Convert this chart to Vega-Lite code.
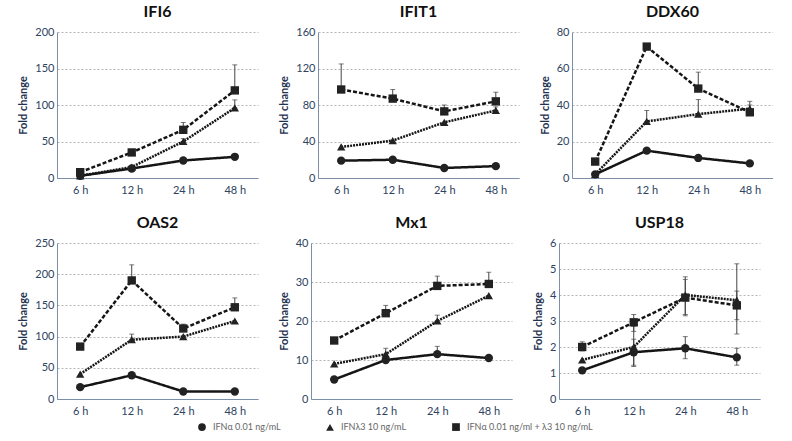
{
  "$schema": "https://vega.github.io/schema/vega-lite/v6.json",
  "padding": {"left": 17, "top": 4, "right": 0, "bottom": 0},
  "background": "white",
  "datasets": {
    "d": [
      {"g":"IFI6","t":"6 h","s":"IFNα 0.01 ng/mL","v":3,"lo":3,"hi":3},
      {"g":"IFI6","t":"12 h","s":"IFNα 0.01 ng/mL","v":13,"lo":13,"hi":13},
      {"g":"IFI6","t":"24 h","s":"IFNα 0.01 ng/mL","v":24,"lo":24,"hi":24},
      {"g":"IFI6","t":"48 h","s":"IFNα 0.01 ng/mL","v":29,"lo":29,"hi":29},
      {"g":"IFI6","t":"6 h","s":"IFNλ3 10 ng/mL","v":3,"lo":3,"hi":3},
      {"g":"IFI6","t":"12 h","s":"IFNλ3 10 ng/mL","v":15,"lo":15,"hi":15},
      {"g":"IFI6","t":"24 h","s":"IFNλ3 10 ng/mL","v":50,"lo":50,"hi":54},
      {"g":"IFI6","t":"48 h","s":"IFNλ3 10 ng/mL","v":96,"lo":96,"hi":107},
      {"g":"IFI6","t":"6 h","s":"IFNα 0.01 ng/ml + λ3 10 ng/mL","v":8,"lo":8,"hi":8},
      {"g":"IFI6","t":"12 h","s":"IFNα 0.01 ng/ml + λ3 10 ng/mL","v":35,"lo":35,"hi":35},
      {"g":"IFI6","t":"24 h","s":"IFNα 0.01 ng/ml + λ3 10 ng/mL","v":66,"lo":66,"hi":76},
      {"g":"IFI6","t":"48 h","s":"IFNα 0.01 ng/ml + λ3 10 ng/mL","v":120,"lo":120,"hi":155},

      {"g":"IFIT1","t":"6 h","s":"IFNα 0.01 ng/mL","v":19,"lo":19,"hi":19},
      {"g":"IFIT1","t":"12 h","s":"IFNα 0.01 ng/mL","v":20,"lo":20,"hi":20},
      {"g":"IFIT1","t":"24 h","s":"IFNα 0.01 ng/mL","v":11,"lo":11,"hi":11},
      {"g":"IFIT1","t":"48 h","s":"IFNα 0.01 ng/mL","v":13,"lo":13,"hi":13},
      {"g":"IFIT1","t":"6 h","s":"IFNλ3 10 ng/mL","v":34,"lo":34,"hi":34},
      {"g":"IFIT1","t":"12 h","s":"IFNλ3 10 ng/mL","v":41,"lo":41,"hi":41},
      {"g":"IFIT1","t":"24 h","s":"IFNλ3 10 ng/mL","v":61,"lo":61,"hi":61},
      {"g":"IFIT1","t":"48 h","s":"IFNλ3 10 ng/mL","v":74,"lo":74,"hi":78},
      {"g":"IFIT1","t":"6 h","s":"IFNα 0.01 ng/ml + λ3 10 ng/mL","v":97,"lo":97,"hi":125},
      {"g":"IFIT1","t":"12 h","s":"IFNα 0.01 ng/ml + λ3 10 ng/mL","v":87,"lo":87,"hi":97},
      {"g":"IFIT1","t":"24 h","s":"IFNα 0.01 ng/ml + λ3 10 ng/mL","v":73,"lo":73,"hi":80},
      {"g":"IFIT1","t":"48 h","s":"IFNα 0.01 ng/ml + λ3 10 ng/mL","v":84,"lo":84,"hi":94},

      {"g":"DDX60","t":"6 h","s":"IFNα 0.01 ng/mL","v":2,"lo":2,"hi":2},
      {"g":"DDX60","t":"12 h","s":"IFNα 0.01 ng/mL","v":15,"lo":15,"hi":15},
      {"g":"DDX60","t":"24 h","s":"IFNα 0.01 ng/mL","v":11,"lo":11,"hi":11},
      {"g":"DDX60","t":"48 h","s":"IFNα 0.01 ng/mL","v":8,"lo":8,"hi":8},
      {"g":"DDX60","t":"6 h","s":"IFNλ3 10 ng/mL","v":2,"lo":2,"hi":2},
      {"g":"DDX60","t":"12 h","s":"IFNλ3 10 ng/mL","v":31,"lo":31,"hi":37},
      {"g":"DDX60","t":"24 h","s":"IFNλ3 10 ng/mL","v":35,"lo":35,"hi":43},
      {"g":"DDX60","t":"48 h","s":"IFNλ3 10 ng/mL","v":38,"lo":38,"hi":42},
      {"g":"DDX60","t":"6 h","s":"IFNα 0.01 ng/ml + λ3 10 ng/mL","v":9,"lo":9,"hi":9},
      {"g":"DDX60","t":"12 h","s":"IFNα 0.01 ng/ml + λ3 10 ng/mL","v":72,"lo":72,"hi":72},
      {"g":"DDX60","t":"24 h","s":"IFNα 0.01 ng/ml + λ3 10 ng/mL","v":49,"lo":49,"hi":58},
      {"g":"DDX60","t":"48 h","s":"IFNα 0.01 ng/ml + λ3 10 ng/mL","v":36,"lo":36,"hi":40},

      {"g":"OAS2","t":"6 h","s":"IFNα 0.01 ng/mL","v":19,"lo":19,"hi":19},
      {"g":"OAS2","t":"12 h","s":"IFNα 0.01 ng/mL","v":38,"lo":38,"hi":38},
      {"g":"OAS2","t":"24 h","s":"IFNα 0.01 ng/mL","v":12,"lo":12,"hi":12},
      {"g":"OAS2","t":"48 h","s":"IFNα 0.01 ng/mL","v":12,"lo":12,"hi":12},
      {"g":"OAS2","t":"6 h","s":"IFNλ3 10 ng/mL","v":40,"lo":40,"hi":40},
      {"g":"OAS2","t":"12 h","s":"IFNλ3 10 ng/mL","v":95,"lo":95,"hi":104},
      {"g":"OAS2","t":"24 h","s":"IFNλ3 10 ng/mL","v":100,"lo":100,"hi":100},
      {"g":"OAS2","t":"48 h","s":"IFNλ3 10 ng/mL","v":125,"lo":125,"hi":125},
      {"g":"OAS2","t":"6 h","s":"IFNα 0.01 ng/ml + λ3 10 ng/mL","v":84,"lo":84,"hi":84},
      {"g":"OAS2","t":"12 h","s":"IFNα 0.01 ng/ml + λ3 10 ng/mL","v":190,"lo":190,"hi":215},
      {"g":"OAS2","t":"24 h","s":"IFNα 0.01 ng/ml + λ3 10 ng/mL","v":113,"lo":113,"hi":120},
      {"g":"OAS2","t":"48 h","s":"IFNα 0.01 ng/ml + λ3 10 ng/mL","v":147,"lo":147,"hi":162},

      {"g":"Mx1","t":"6 h","s":"IFNα 0.01 ng/mL","v":5,"lo":5,"hi":5},
      {"g":"Mx1","t":"12 h","s":"IFNα 0.01 ng/mL","v":10,"lo":10,"hi":10},
      {"g":"Mx1","t":"24 h","s":"IFNα 0.01 ng/mL","v":11.5,"lo":11.5,"hi":13.5},
      {"g":"Mx1","t":"48 h","s":"IFNα 0.01 ng/mL","v":10.5,"lo":10.5,"hi":10.5},
      {"g":"Mx1","t":"6 h","s":"IFNλ3 10 ng/mL","v":9,"lo":9,"hi":9},
      {"g":"Mx1","t":"12 h","s":"IFNλ3 10 ng/mL","v":11.5,"lo":11.5,"hi":13},
      {"g":"Mx1","t":"24 h","s":"IFNλ3 10 ng/mL","v":20,"lo":20,"hi":21.5},
      {"g":"Mx1","t":"48 h","s":"IFNλ3 10 ng/mL","v":26.5,"lo":26.5,"hi":26.5},
      {"g":"Mx1","t":"6 h","s":"IFNα 0.01 ng/ml + λ3 10 ng/mL","v":15,"lo":15,"hi":15},
      {"g":"Mx1","t":"12 h","s":"IFNα 0.01 ng/ml + λ3 10 ng/mL","v":22,"lo":22,"hi":24},
      {"g":"Mx1","t":"24 h","s":"IFNα 0.01 ng/ml + λ3 10 ng/mL","v":29,"lo":29,"hi":31.5},
      {"g":"Mx1","t":"48 h","s":"IFNα 0.01 ng/ml + λ3 10 ng/mL","v":29.5,"lo":29.5,"hi":32.5},

      {"g":"USP18","t":"6 h","s":"IFNα 0.01 ng/mL","v":1.1,"lo":1.1,"hi":1.1},
      {"g":"USP18","t":"12 h","s":"IFNα 0.01 ng/mL","v":1.8,"lo":1.3,"hi":2.3},
      {"g":"USP18","t":"24 h","s":"IFNα 0.01 ng/mL","v":1.95,"lo":1.55,"hi":2.4},
      {"g":"USP18","t":"48 h","s":"IFNα 0.01 ng/mL","v":1.6,"lo":1.3,"hi":1.95},
      {"g":"USP18","t":"6 h","s":"IFNλ3 10 ng/mL","v":1.5,"lo":1.5,"hi":1.5},
      {"g":"USP18","t":"12 h","s":"IFNλ3 10 ng/mL","v":2.0,"lo":1.25,"hi":2.8},
      {"g":"USP18","t":"24 h","s":"IFNλ3 10 ng/mL","v":4.0,"lo":3.2,"hi":4.7},
      {"g":"USP18","t":"48 h","s":"IFNλ3 10 ng/mL","v":3.8,"lo":2.5,"hi":5.2},
      {"g":"USP18","t":"6 h","s":"IFNα 0.01 ng/ml + λ3 10 ng/mL","v":2.0,"lo":1.85,"hi":2.2},
      {"g":"USP18","t":"12 h","s":"IFNα 0.01 ng/ml + λ3 10 ng/mL","v":2.95,"lo":2.6,"hi":3.25},
      {"g":"USP18","t":"24 h","s":"IFNα 0.01 ng/ml + λ3 10 ng/mL","v":3.9,"lo":3.25,"hi":4.6},
      {"g":"USP18","t":"48 h","s":"IFNα 0.01 ng/ml + λ3 10 ng/mL","v":3.6,"lo":3.05,"hi":4.15}
    ]
  },
  "vconcat": [
    {
      "hconcat": [
        {
          "title": "IFI6", "width": 201, "height": 146,
          "data": {"name": "d"},
          "transform": [{"filter": "datum.g === 'IFI6'"}],
          "encoding": {"x": {"field": "t", "type": "ordinal", "sort": ["6 h","12 h","24 h","48 h"], "scale": {"type": "point", "padding": 0.45}, "axis": {"title": null}}},
          "layer": [
            {"transform": [{"filter": "datum.hi > datum.lo"}], "mark": {"type": "errorbar", "ticks": {"size": 5}, "color": "#444", "thickness": 1}, "encoding": {"y": {"field": "lo", "type": "quantitative", "scale": {"domain": [0, 200]}, "axis": {"title": "Fold change", "values": [0,50,100,150,200]}}, "y2": {"field": "hi"}, "detail": {"field": "s"}}},
            {"mark": {"type": "line", "color": "#151515", "strokeWidth": 2.5}, "encoding": {"y": {"field": "v", "type": "quantitative", "scale": {"domain": [0, 200]}, "axis": {"title": "Fold change", "values": [0,50,100,150,200]}}, "strokeDash": {"field": "s", "type": "nominal", "legend": null}}},
            {"mark": {"type": "point", "filled": true, "color": "#222", "opacity": 1, "size": 70}, "encoding": {"y": {"field": "v", "type": "quantitative", "scale": {"domain": [0, 200]}, "axis": {"title": "Fold change", "values": [0,50,100,150,200]}}, "shape": {"field": "s", "type": "nominal", "legend": {"orient": "bottom", "offset": 6, "values": ["IFNα 0.01 ng/mL","IFNλ3 10 ng/mL","IFNα 0.01 ng/ml + λ3 10 ng/mL"], "direction": "horizontal", "title": null, "symbolSize": 60, "columnPadding": 42, "labelOffset": 6}}}}
          ]
        },
        {
          "title": "IFIT1", "width": 201, "height": 146,
          "data": {"name": "d"},
          "transform": [{"filter": "datum.g === 'IFIT1'"}],
          "encoding": {"x": {"field": "t", "type": "ordinal", "sort": ["6 h","12 h","24 h","48 h"], "scale": {"type": "point", "padding": 0.45}, "axis": {"title": null}}},
          "layer": [
            {"transform": [{"filter": "datum.hi > datum.lo"}], "mark": {"type": "errorbar", "ticks": {"size": 5}, "color": "#444", "thickness": 1}, "encoding": {"y": {"field": "lo", "type": "quantitative", "scale": {"domain": [0, 160]}, "axis": {"title": "Fold change", "values": [0,40,80,120,160]}}, "y2": {"field": "hi"}, "detail": {"field": "s"}}},
            {"mark": {"type": "line", "color": "#151515", "strokeWidth": 2.5}, "encoding": {"y": {"field": "v", "type": "quantitative", "scale": {"domain": [0, 160]}, "axis": {"title": "Fold change", "values": [0,40,80,120,160]}}, "strokeDash": {"field": "s", "type": "nominal", "legend": null}}},
            {"mark": {"type": "point", "filled": true, "color": "#222", "opacity": 1, "size": 70}, "encoding": {"y": {"field": "v", "type": "quantitative", "scale": {"domain": [0, 160]}, "axis": {"title": "Fold change", "values": [0,40,80,120,160]}}, "shape": {"field": "s", "type": "nominal"}}}
          ]
        },
        {
          "title": "DDX60", "width": 201, "height": 146,
          "data": {"name": "d"},
          "transform": [{"filter": "datum.g === 'DDX60'"}],
          "encoding": {"x": {"field": "t", "type": "ordinal", "sort": ["6 h","12 h","24 h","48 h"], "scale": {"type": "point", "padding": 0.45}, "axis": {"title": null}}},
          "layer": [
            {"transform": [{"filter": "datum.hi > datum.lo"}], "mark": {"type": "errorbar", "ticks": {"size": 5}, "color": "#444", "thickness": 1}, "encoding": {"y": {"field": "lo", "type": "quantitative", "scale": {"domain": [0, 80]}, "axis": {"title": "Fold change", "values": [0,20,40,60,80]}}, "y2": {"field": "hi"}, "detail": {"field": "s"}}},
            {"mark": {"type": "line", "color": "#151515", "strokeWidth": 2.5}, "encoding": {"y": {"field": "v", "type": "quantitative", "scale": {"domain": [0, 80]}, "axis": {"title": "Fold change", "values": [0,20,40,60,80]}}, "strokeDash": {"field": "s", "type": "nominal", "legend": null}}},
            {"mark": {"type": "point", "filled": true, "color": "#222", "opacity": 1, "size": 70}, "encoding": {"y": {"field": "v", "type": "quantitative", "scale": {"domain": [0, 80]}, "axis": {"title": "Fold change", "values": [0,20,40,60,80]}}, "shape": {"field": "s", "type": "nominal"}}}
          ]
        }
      ]
    },
    {
      "hconcat": [
        {
          "title": "OAS2", "width": 201, "height": 156,
          "data": {"name": "d"},
          "transform": [{"filter": "datum.g === 'OAS2'"}],
          "encoding": {"x": {"field": "t", "type": "ordinal", "sort": ["6 h","12 h","24 h","48 h"], "scale": {"type": "point", "padding": 0.45}, "axis": {"title": null}}},
          "layer": [
            {"transform": [{"filter": "datum.hi > datum.lo"}], "mark": {"type": "errorbar", "ticks": {"size": 5}, "color": "#444", "thickness": 1}, "encoding": {"y": {"field": "lo", "type": "quantitative", "scale": {"domain": [0, 250]}, "axis": {"title": "Fold change", "values": [0,50,100,150,200,250]}}, "y2": {"field": "hi"}, "detail": {"field": "s"}}},
            {"mark": {"type": "line", "color": "#151515", "strokeWidth": 2.5}, "encoding": {"y": {"field": "v", "type": "quantitative", "scale": {"domain": [0, 250]}, "axis": {"title": "Fold change", "values": [0,50,100,150,200,250]}}, "strokeDash": {"field": "s", "type": "nominal", "legend": null}}},
            {"mark": {"type": "point", "filled": true, "color": "#222", "opacity": 1, "size": 70}, "encoding": {"y": {"field": "v", "type": "quantitative", "scale": {"domain": [0, 250]}, "axis": {"title": "Fold change", "values": [0,50,100,150,200,250]}}, "shape": {"field": "s", "type": "nominal"}}}
          ]
        },
        {
          "title": "Mx1", "width": 201, "height": 156,
          "data": {"name": "d"},
          "transform": [{"filter": "datum.g === 'Mx1'"}],
          "encoding": {"x": {"field": "t", "type": "ordinal", "sort": ["6 h","12 h","24 h","48 h"], "scale": {"type": "point", "padding": 0.45}, "axis": {"title": null}}},
          "layer": [
            {"transform": [{"filter": "datum.hi > datum.lo"}], "mark": {"type": "errorbar", "ticks": {"size": 5}, "color": "#444", "thickness": 1}, "encoding": {"y": {"field": "lo", "type": "quantitative", "scale": {"domain": [0, 40]}, "axis": {"title": "Fold change", "values": [0,10,20,30,40]}}, "y2": {"field": "hi"}, "detail": {"field": "s"}}},
            {"mark": {"type": "line", "color": "#151515", "strokeWidth": 2.5}, "encoding": {"y": {"field": "v", "type": "quantitative", "scale": {"domain": [0, 40]}, "axis": {"title": "Fold change", "values": [0,10,20,30,40]}}, "strokeDash": {"field": "s", "type": "nominal", "legend": null}}},
            {"mark": {"type": "point", "filled": true, "color": "#222", "opacity": 1, "size": 70}, "encoding": {"y": {"field": "v", "type": "quantitative", "scale": {"domain": [0, 40]}, "axis": {"title": "Fold change", "values": [0,10,20,30,40]}}, "shape": {"field": "s", "type": "nominal"}}}
          ]
        },
        {
          "title": "USP18", "width": 201, "height": 156,
          "data": {"name": "d"},
          "transform": [{"filter": "datum.g === 'USP18'"}],
          "encoding": {"x": {"field": "t", "type": "ordinal", "sort": ["6 h","12 h","24 h","48 h"], "scale": {"type": "point", "padding": 0.45}, "axis": {"title": null}}},
          "layer": [
            {"transform": [{"filter": "datum.hi > datum.lo"}], "mark": {"type": "errorbar", "ticks": {"size": 5}, "color": "#444", "thickness": 1}, "encoding": {"y": {"field": "lo", "type": "quantitative", "scale": {"domain": [0, 6]}, "axis": {"title": "Fold change", "values": [0,1,2,3,4,5,6]}}, "y2": {"field": "hi"}, "detail": {"field": "s"}}},
            {"mark": {"type": "line", "color": "#151515", "strokeWidth": 2.5}, "encoding": {"y": {"field": "v", "type": "quantitative", "scale": {"domain": [0, 6]}, "axis": {"title": "Fold change", "values": [0,1,2,3,4,5,6]}}, "strokeDash": {"field": "s", "type": "nominal", "legend": null}}},
            {"mark": {"type": "point", "filled": true, "color": "#222", "opacity": 1, "size": 70}, "encoding": {"y": {"field": "v", "type": "quantitative", "scale": {"domain": [0, 6]}, "axis": {"title": "Fold change", "values": [0,1,2,3,4,5,6]}}, "shape": {"field": "s", "type": "nominal"}}}
          ]
        }
      ]
    }
  ],
  "resolve": {"scale": {"shape": "shared", "strokeDash": "shared"}},
  "config": {
    "font": "Lato",
    "view": {"stroke": null},
    "concat": {"spacing": 20},
    "title": {"fontSize": 16, "fontWeight": "bold", "color": "#111", "offset": 6, "font": "Lato"},
    "axis": {"labelColor": "#2e4360", "labelFontSize": 11, "labelFont": "Lato", "titleColor": "#1e3150", "titleFontSize": 11, "titleFontWeight": "bold", "titleFont": "Lato", "domainColor": "#7d8ea8", "tickSize": 3, "tickColor": "#7d8ea8", "gridColor": "#b5b5b5", "gridDash": [2, 2], "labelPadding": 3},
    "axisX": {"grid": false, "labelAngle": 0, "ticks": false, "labelPadding": 6},
    "axisY": {"titlePadding": 6, "ticks": false},
    "range": {
      "shape": ["circle", "square", "triangle-up"],
      "strokeDash": [[1, 0], [10, 6], [2, 2]]
    },
    "legend": {"labelFontSize": 9, "labelColor": "#666", "labelLimit": 300, "layout": {"bottom": {"anchor": "middle"}}}
  }
}
